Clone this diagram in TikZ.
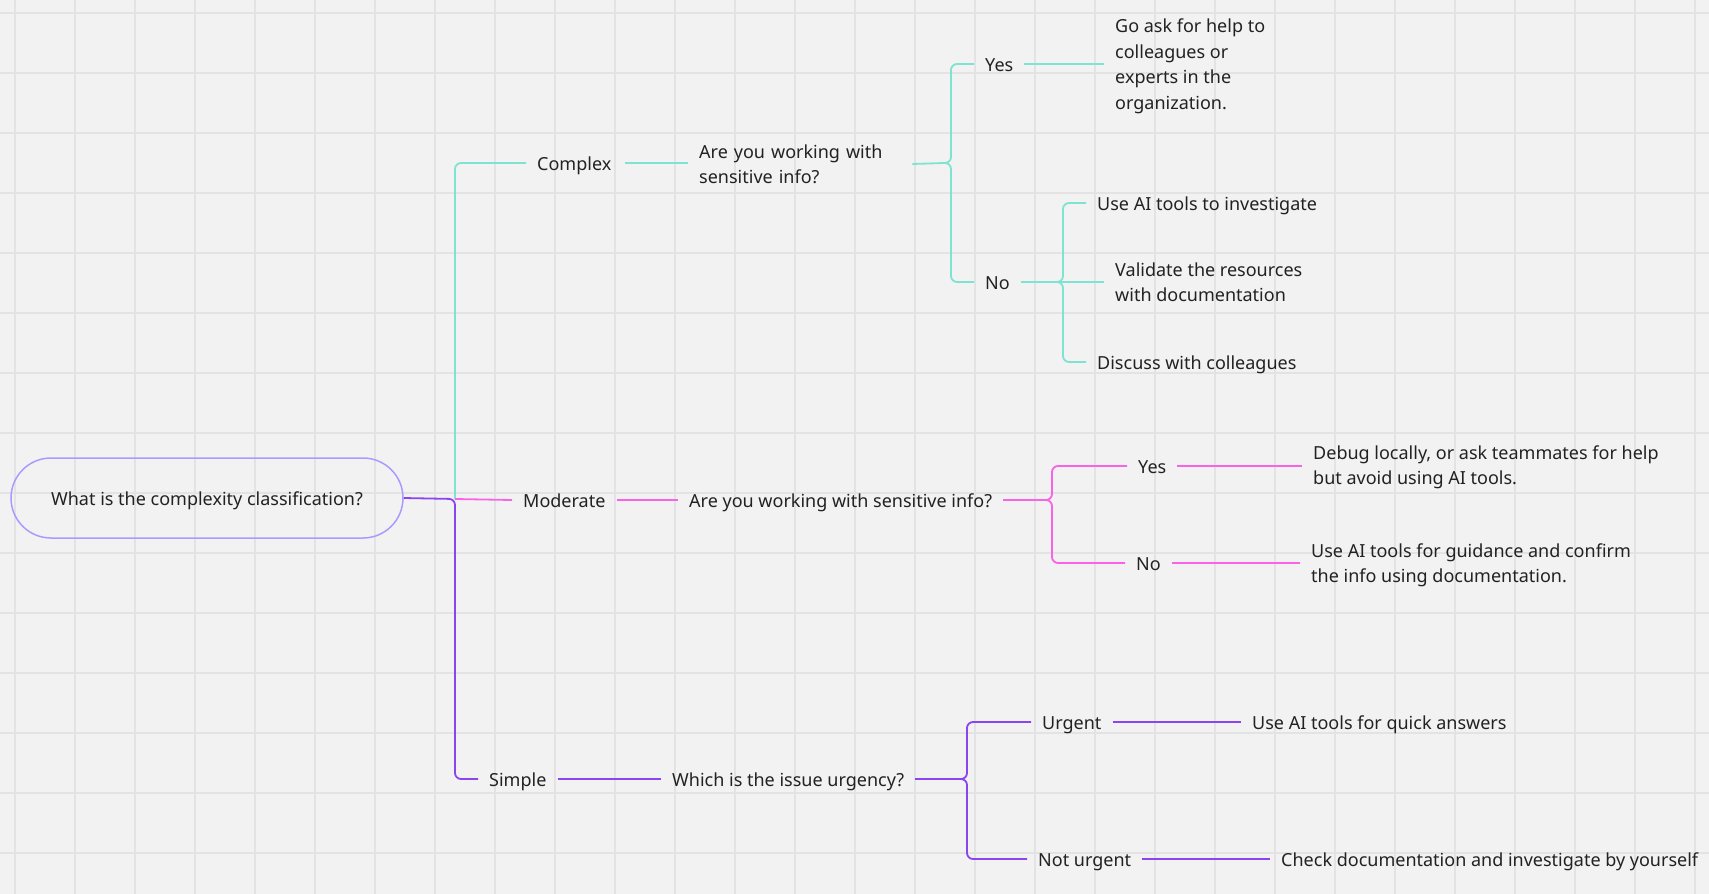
\documentclass[tikz,border=0pt]{standalone}
\usepackage{fontspec}
\setmainfont{Noto Sans}
\definecolor{bg}{HTML}{F2F2F2}
\definecolor{gridc}{HTML}{E3E3E3}
\definecolor{tealc}{HTML}{7EE3D0}
\definecolor{magc}{HTML}{F964E6}
\definecolor{purc}{HTML}{8B44F2}
\definecolor{pillc}{HTML}{A99CFF}
\definecolor{txt}{HTML}{222222}
\newcommand{\topstrut}{\rule{0pt}{18.5pt}}
\newcommand{\botstrut}{\rule[-4.5pt]{0pt}{4.5pt}}
\begin{document}
\begin{tikzpicture}[x=1pt,y=-1pt,
  lbl/.style={anchor=west, inner xsep=11pt, inner ysep=0pt, text=txt,
    font=\fontsize{18}{25.5}\selectfont, align=left,
    execute at begin node=\topstrut, execute at end node=\botstrut},
  conn/.style={line width=1.8pt, rounded corners=6pt},
  tl/.style={conn, draw=tealc},
  ml/.style={conn, draw=magc},
  pl/.style={conn, draw=purc}]
% background and grid
\fill[bg] (0,0) rectangle (1709,894);
\useasboundingbox (0,0) rectangle (1709,894);
\foreach \i in {0,...,28} \draw[gridc, line width=1.4pt] (15+60*\i,0) -- (15+60*\i,894);
\foreach \j in {0,...,14} \draw[gridc, line width=1.4pt] (0,13+60*\j) -- (1709,13+60*\j);

% root
\node[draw=pillc, line width=1.5pt, rounded corners=40pt, minimum width=392pt, minimum height=80pt,
  text=txt, font=\fontsize{18}{25.5}\selectfont,
  execute at begin node=\topstrut, execute at end node=\botstrut] (root) at (207,498) {What is the complexity classification?};
\coordinate (j) at (455,499);

% level 1
\node[lbl] (complex) at (526,163) {Complex};
\node[lbl] (moderate) at (512,500) {Moderate};
\node[lbl] (simple) at (478,779) {Simple};

% questions
\node[lbl, text width=202pt] (q1) at (688,164) {Are you working with\\sensitive info?};
\node[lbl] (q2) at (678,500) {Are you working with sensitive info?};
\node[lbl] (q3) at (661,779) {Which is the issue urgency?};

% complex branch
\node[lbl] (yes1) at (974,64) {Yes};
\node[lbl] (ans1) at (1104,66.5) {Go ask for help to\\colleagues or\\experts in the\\organization.};
\node[lbl] (no1) at (974,282) {No};
\node[lbl] (use1) at (1086,203) {Use AI tools to investigate};
\node[lbl] (val1) at (1104,284.5) {Validate the resources\\with documentation};
\node[lbl] (disc1) at (1086,362) {Discuss with colleagues};

% moderate branch
\node[lbl] (yes2) at (1127,466) {Yes};
\node[lbl] (ans2) at (1302,467.5) {Debug locally, or ask teammates for help\\but avoid using AI tools.};
\node[lbl] (no2) at (1125,563) {No};
\node[lbl] (ans3) at (1300,565.5) {Use AI tools for guidance and confirm\\the info using documentation.};

% simple branch
\node[lbl] (urg) at (1031,722) {Urgent};
\node[lbl] (ans4) at (1241,722) {Use AI tools for quick answers};
\node[lbl] (nurg) at (1027,859) {Not urgent};
\node[lbl] (ans5) at (1270,859) {Check documentation and investigate by yourself};

% brace coordinates
\coordinate (b1) at (944,163);  \coordinate (b1x) at (951,163);
\coordinate (b2) at (1056,282); \coordinate (b2x) at (1063,282);
\coordinate (b3) at (1045,500); \coordinate (b3x) at (1052,500);
\coordinate (b4) at (960,779);  \coordinate (b4x) at (967,779);

% root connectors
\draw[pl] (root.east) -- (j) |- (simple.west);
\draw[tl] (j) |- (complex.west);
\draw[ml] (j) -- (moderate.west);

% complex
\draw[tl] ([xshift=2pt]complex.east) -- (complex.east -| q1.west);
\draw[tl] (q1.east) -- (b1);
\draw[tl] (b1) -- (b1x) |- (yes1.west);
\draw[tl] (b1) -- (b1x) |- (no1.west);
\draw[tl] (yes1.east) -- (yes1.east -| ans1.west);
\draw[tl] (no1.east) -- (no1.east -| val1.west);
\draw[tl] (b2) -- (b2x) |- (use1.west);
\draw[tl] (b2) -- (b2x) |- (disc1.west);

% moderate
\draw[ml] (moderate.east) -- (q2.west);
\draw[ml] (q2.east) -- (b3);
\draw[ml] (b3) -- (b3x) |- (yes2.west);
\draw[ml] (b3) -- (b3x) |- (no2.west);
\draw[ml] (yes2.east) -- (yes2.east -| ans2.west);
\draw[ml] (no2.east) -- (no2.east -| ans3.west);

% simple
\draw[pl] (simple.east) -- (q3.west);
\draw[pl] (q3.east) -- (b4);
\draw[pl] (b4) -- (b4x) |- (urg.west);
\draw[pl] (b4) -- (b4x) |- (nurg.west);
\draw[pl] (urg.east) -- (ans4.west);
\draw[pl] (nurg.east) -- (ans5.west);
\end{tikzpicture}
\end{document}
